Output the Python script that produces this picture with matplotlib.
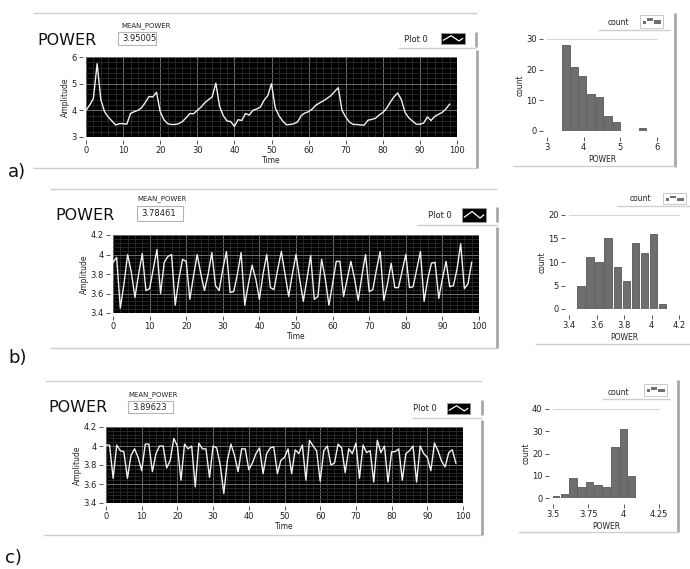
import numpy as np
import matplotlib
matplotlib.use('Agg')
import matplotlib.pyplot as plt
from matplotlib.patches import Rectangle
from matplotlib.ticker import MultipleLocator, FormatStrFormatter

W, H = 690, 569

# waveforms (one value per time step 0..98)
power_a = [4.00, 4.20, 4.45, 5.75, 4.40, 3.95, 3.75, 3.60, 3.45, 3.50,
           3.50, 3.48, 3.88, 3.95, 4.00, 4.10, 4.30, 4.52, 4.50, 4.68,
           3.95, 3.65, 3.50, 3.47, 3.47, 3.50, 3.58, 3.72, 3.88, 3.87,
           4.00, 4.12, 4.28, 4.40, 4.50, 5.02, 4.15, 3.80, 3.60, 3.58,
           3.40, 3.65, 3.62, 3.88, 3.82, 4.00, 4.05, 4.12, 4.38, 4.55,
           5.00, 4.10, 3.80, 3.60, 3.46, 3.47, 3.50, 3.56, 3.80, 3.90,
           3.95, 4.05, 4.20, 4.28, 4.36, 4.45, 4.55, 4.70, 4.85, 4.00,
           3.75, 3.56, 3.47, 3.47, 3.45, 3.45, 3.63, 3.66, 3.70, 3.82,
           3.92, 4.07, 4.30, 4.50, 4.65, 4.40, 3.92, 3.72, 3.60, 3.48,
           3.48, 3.52, 3.75, 3.62, 3.77, 3.85, 3.92, 4.05, 4.23]

power_b = [3.92, 3.97, 3.45, 3.70, 4.00, 3.82, 3.56, 3.80, 4.01, 3.63,
           3.65, 3.85, 4.05, 3.60, 3.92, 3.98, 4.00, 3.48, 3.75, 3.95,
           3.93, 3.54, 3.78, 4.00, 3.80, 3.63, 3.80, 4.02, 3.68, 3.63,
           3.85, 4.03, 3.61, 3.62, 3.80, 4.02, 3.48, 3.70, 3.89, 3.75,
           3.54, 3.80, 4.00, 3.66, 3.64, 3.85, 4.03, 3.80, 3.57, 3.80,
           4.00, 3.75, 3.52, 3.75, 3.99, 3.54, 3.57, 3.95, 3.75, 3.48,
           3.70, 3.93, 3.93, 3.57, 3.75, 3.93, 3.75, 3.53, 3.78, 4.00,
           3.62, 3.64, 3.85, 4.03, 3.53, 3.70, 3.91, 3.66, 3.66, 3.83,
           4.00, 3.66, 3.67, 3.85, 4.03, 3.52, 3.75, 3.91, 3.92, 3.55,
           3.75, 3.93, 3.67, 3.68, 3.85, 4.11, 3.65, 3.70, 3.92]

power_c = [4.01, 4.01, 3.66, 4.01, 3.95, 3.94, 3.66, 3.90, 3.97, 3.88,
           3.74, 4.02, 4.02, 3.73, 3.92, 4.00, 4.00, 3.77, 3.85, 4.08,
           4.00, 3.64, 4.02, 3.97, 4.00, 3.57, 4.03, 3.97, 3.97, 3.67,
           4.00, 3.98, 3.80, 3.50, 3.85, 4.02, 3.90, 3.73, 3.97, 3.97,
           3.75, 3.82, 3.92, 3.98, 3.71, 3.92, 3.98, 3.99, 3.71, 3.85,
           3.88, 3.97, 3.71, 3.96, 3.92, 4.01, 3.64, 4.06, 4.00, 3.95,
           3.63, 3.95, 4.00, 3.80, 3.82, 4.02, 3.98, 3.72, 3.97, 3.92,
           4.03, 3.66, 4.01, 3.93, 3.95, 3.62, 4.06, 3.93, 4.00, 3.62,
           3.94, 3.94, 3.97, 3.64, 3.92, 3.95, 4.00, 3.62, 4.00, 3.92,
           3.88, 3.74, 4.03, 3.95, 3.84, 3.78, 3.93, 3.96, 3.82]

mean_power = ['3.95005', '3.78461', '3.89623']

# histograms (bin centre, count)
bins_a = [3.52, 3.75, 3.97, 4.20, 4.43, 4.66, 4.89, 5.12, 5.36, 5.60]
counts_a = [28, 21, 18, 12, 11, 5, 3, 0, 0, 1]
bins_b = [3.487, 3.553, 3.618, 3.684, 3.752, 3.817, 3.882, 3.948, 4.016, 4.081]
counts_b = [5, 11, 10, 15, 9, 6, 14, 12, 16, 1]
bins_c = [3.519, 3.582, 3.641, 3.699, 3.760, 3.819, 3.877, 3.938, 3.997, 4.055]
counts_c = [1, 2, 9, 5, 7, 6, 5, 23, 31, 10]

time_ticks = [0, 10, 20, 30, 40, 50, 60, 70, 80, 90, 100]
amp_ticks_a = [3, 4, 5, 6]
amp_ticks_bc = [3.4, 3.6, 3.8, 4.0, 4.2]
hist_xticks_a = [3, 4, 5, 6]
hist_xticks_b = [3.4, 3.6, 3.8, 4.0, 4.2]
hist_xticks_c = [3.5, 3.75, 4.0, 4.25]
hist_yticks_a = [0, 10, 20, 30]
hist_yticks_b = [0, 5, 10, 15, 20]
hist_yticks_c = [0, 10, 20, 30, 40]

LINE = '#cfcfcf'
EDGE = '#a8a8a8'
TXT = '#222222'


def rect(x0, y0, x1, y1):
	return [x0 / W, 1 - y1 / H, (x1 - x0) / W, (y1 - y0) / H]


def fmt_ticks(ax):
	ax.xaxis.set_major_formatter(FormatStrFormatter('%g'))
	ax.yaxis.set_major_formatter(FormatStrFormatter('%g'))


def wave_chart(fig, r, y, ylim, yticks, yminor):
	ax = fig.add_axes(r)
	ax.set_facecolor('black')
	ax.plot(np.arange(len(y)), y, color='#f2f2f2', lw=1.0)
	ax.set_xlim(0, 100)
	ax.set_ylim(*ylim)
	ax.set_xticks(time_ticks)
	ax.set_yticks(yticks)
	ax.xaxis.set_minor_locator(MultipleLocator(2))
	ax.yaxis.set_minor_locator(MultipleLocator(yminor))
	ax.set_axisbelow(True)
	ax.grid(which='minor', color='#2c2c2c', lw=0.6)
	ax.grid(which='major', color='#6e6e6e', lw=0.7)
	ax.tick_params(which='minor', length=0)
	ax.tick_params(which='major', length=3, width=0.7, color='#555555',
				   labelsize=6, pad=1.5, labelcolor=TXT)
	for s in ax.spines.values():
		s.set_visible(False)
	ax.spines['left'].set_position(('outward', 2))
	ax.spines['bottom'].set_position(('outward', 2))
	fmt_ticks(ax)
	ax.set_xlabel('Time', fontsize=5.5, labelpad=1, color=TXT)
	ax.set_ylabel('Amplitude', fontsize=5.5, labelpad=1, color=TXT)
	return ax


def hist_chart(fig, r, centers, counts, width, xlim, xticks, ylim, yticks):
	ax = fig.add_axes(r)
	ax.bar(centers, counts, width=width, color='#6e6e6e', edgecolor='#585858', lw=0.6)
	ax.set_xlim(*xlim)
	ax.set_ylim(*ylim)
	ax.set_xticks(xticks)
	ax.set_yticks(yticks)
	for k in ['bottom', 'right', 'left']:
		ax.spines[k].set_visible(False)
	ax.spines['top'].set_color('#d8d8d8')
	ax.spines['left'].set_position(('outward', 3))
	ax.spines['bottom'].set_position(('outward', 4))
	ax.tick_params(length=3, width=0.7, color='#555555', labelsize=6, pad=1.5,
				   labelcolor=TXT)
	fmt_ticks(ax)
	ax.set_xlabel('POWER', fontsize=5.5, labelpad=2, color=TXT)
	ax.set_ylabel('count', fontsize=5.5, labelpad=1, color=TXT)
	return ax


def hline(ov, y, x0, x1, c=LINE, lw=1.0):
	ov.plot([x0, x1], [y, y], color=c, lw=lw, solid_capstyle='butt')


def vline(ov, x, y0, y1, c=EDGE, lw=2.0):
	ov.plot([x, x], [y0, y1], color=c, lw=lw, solid_capstyle='butt')


def wave_icon(ov, x0, y0, x1, y1):
	ov.add_patch(Rectangle((x0, y0), x1 - x0, y1 - y0, fc='black', ec='#9a9a9a', lw=0.6))
	w, h = x1 - x0, y1 - y0
	fx = [0.1, 0.42, 0.75, 0.9]
	fy = [0.65, 0.25, 0.72, 0.5]
	ov.plot([x0 + f * w for f in fx], [y0 + f * h for f in fy], color='white', lw=0.9)


def hist_icon(ov, x0, y0, x1, y1):
	ov.add_patch(Rectangle((x0, y0), x1 - x0, y1 - y0, fc='white', ec='#c0c0c0', lw=0.6))
	w, h = x1 - x0, y1 - y0
	ov.add_patch(Rectangle((x0 + 0.12 * w, y0 + 0.45 * h), 0.14 * w, 0.25 * h, fc='#707070', lw=0))
	ov.add_patch(Rectangle((x0 + 0.32 * w, y0 + 0.25 * h), 0.25 * w, 0.22 * h, fc='#707070', lw=0))
	ov.add_patch(Rectangle((x0 + 0.60 * w, y0 + 0.42 * h), 0.32 * w, 0.28 * h, fc='#707070', lw=0))


def panel_text(ov, mx, my, box, value, plot0, icon, title_xy, tag, tag_xy):
	ov.text(title_xy[0], title_xy[1], 'POWER', fontsize=11.5, va='center', ha='left', color='#111111')
	ov.text(mx, my, 'MEAN_POWER', fontsize=5, va='center', ha='left', color=TXT)
	bx0, by0, bx1, by1 = box
	ov.add_patch(Rectangle((bx0, by0), bx1 - bx0, by1 - by0, fc='white', ec='#b5b5b5', lw=0.8))
	ov.text(bx0 + 4, (by0 + by1) / 2, value, fontsize=6, va='center', ha='left', color=TXT)
	ov.text(plot0[0], plot0[1], 'Plot 0', fontsize=6, va='center', ha='left', color=TXT)
	wave_icon(ov, *icon)
	ov.text(tag_xy[0], tag_xy[1], tag, fontsize=13, va='center', ha='left', color='#111111')


fig = plt.figure(figsize=(W / 100, H / 100), dpi=100)
ov = fig.add_axes([0, 0, 1, 1])
ov.set_xlim(0, W)
ov.set_ylim(H, 0)
ov.axis('off')

# ---- panel a
hline(ov, 13, 33, 477)
hline(ov, 168, 33, 477)
vline(ov, 477, 50, 168)
vline(ov, 476, 32, 47)
hline(ov, 48, 398, 476)
panel_text(ov, 121, 26, (118, 32, 156, 45), mean_power[0], (404, 39),
		   (441, 33, 465, 44), (37, 40), 'a)', (8, 172))
wave_chart(fig, rect(86, 57, 457, 137), power_a, (3, 6), amp_ticks_a, 0.2)

ov.text(608, 22, 'count', fontsize=5.5, va='center', ha='left', color=TXT)
hist_icon(ov, 640, 15, 663, 28)
hline(ov, 30, 598, 670)
vline(ov, 675, 13, 167)
hline(ov, 166, 513, 675)
hist_chart(fig, rect(547, 39, 657, 131), bins_a, counts_a, 0.2, (3, 6),
		   hist_xticks_a, (0, 30), hist_yticks_a)

# ---- panel b
hline(ov, 189, 50, 497)
hline(ov, 348, 50, 497)
vline(ov, 497, 227, 348)
vline(ov, 497, 207, 222)
hline(ov, 225, 417, 497)
panel_text(ov, 137, 199, (137, 206, 183, 221), mean_power[1], (428, 215),
		   (462, 208, 486, 222), (55, 215), 'b)', (8, 358))
wave_chart(fig, rect(113, 235, 479, 313), power_b, (3.4, 4.2), amp_ticks_bc, 0.04)

ov.text(630, 198, 'count', fontsize=5.5, va='center', ha='left', color=TXT)
hist_icon(ov, 663, 193, 686, 204)
hline(ov, 206, 617, 690)
hline(ov, 344, 535, 690)
hist_chart(fig, rect(569, 215, 679, 309), bins_b, counts_b, 0.053, (3.4, 4.2),
		   hist_xticks_b, (0, 20), hist_yticks_b)

# ---- panel c
hline(ov, 381, 45, 482)
hline(ov, 535, 43, 482)
vline(ov, 482, 420, 535)
vline(ov, 482, 400, 415)
hline(ov, 418, 412, 482)
panel_text(ov, 128, 395, (128, 401, 173, 413), mean_power[2], (413, 408),
		   (447, 403, 470, 414), (48, 407), 'c)', (5, 558))
wave_chart(fig, rect(106, 427, 463, 503), power_c, (3.4, 4.2), amp_ticks_bc, 0.04)

ov.text(608, 392, 'count', fontsize=5.5, va='center', ha='left', color=TXT)
hist_icon(ov, 644, 384, 667, 396)
hline(ov, 399, 602, 670)
vline(ov, 678, 380, 532)
hline(ov, 532, 518, 678)
hist_chart(fig, rect(553, 409, 659, 498), bins_c, counts_c, 0.052, (3.5, 4.25),
		   hist_xticks_c, (0, 40), hist_yticks_c)

fig.savefig('out.png', dpi=100)
